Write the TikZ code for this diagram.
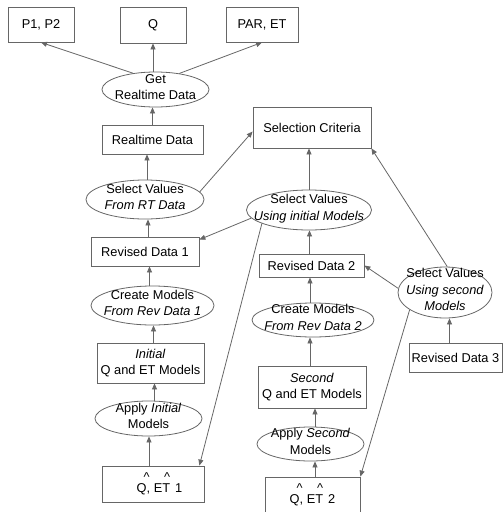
\documentclass[tikz,border=0pt]{standalone}
\usepackage{fontspec}
\setmainfont{Liberation Sans}
\usetikzlibrary{shapes.geometric,arrows.meta}
\definecolor{linegray}{HTML}{666666}

% text of an oval: centred lines that do not widen the oval
\newcommand\ovaltext[1]{\smash{\makebox[0pt]{\raisebox{-1.5pt}{\begin{tabular}{@{}c@{}}#1\end{tabular}}}}}
% a caret set above the preceding letter
\newcommand\caretat[1]{\rlap{\kern#1\raisebox{11pt}{\textasciicircum}}}

\begin{document}
\begin{tikzpicture}[x=1pt,y=-1pt,
  every node/.style={font=\fontsize{12.8}{16.5}\selectfont, text=black},
  box/.style={draw=linegray, line width=0.8pt, rectangle, inner sep=0pt, align=center},
  oval/.style={draw=linegray, line width=0.8pt, ellipse, inner sep=0pt},
  arr/.style={draw=linegray, line width=0.8pt, -{Triangle[length=6pt,width=5pt]}},
]
\path[use as bounding box] (0,0) rectangle (503,512);
\clip (0,0) rectangle (503,512);

% outputs
\node[box, minimum width=66pt, minimum height=35pt] (p12) at (41,24.5) {P1, P2};
\node[box, minimum width=66pt, minimum height=36pt] (q)   at (153,25) {Q};
\node[box, minimum width=72pt, minimum height=35pt] (par) at (262,24.5) {PAR, ET};

% left column
\node[oval, minimum width=107pt, minimum height=35pt] (get) at (155.5,89.5) {\ovaltext{Get\\Realtime Data}};
\node[box, minimum width=101pt, minimum height=29pt] (rt) at (152.5,139.5) {Realtime Data};
\node[oval, minimum width=118pt, minimum height=39pt] (selRT) at (145,199.5) {\ovaltext{Select Values\\\textit{From RT Data}}};
\node[box, minimum width=108pt, minimum height=29pt] (rd1) at (145,251.5) {Revised Data 1};
\node[oval, minimum width=123pt, minimum height=39pt] (cm1) at (152.5,305.5) {\ovaltext{Create Models\\\textit{From Rev Data 1}}};
\node[box, minimum width=107pt, minimum height=40pt] (ini) at (150.5,363) {\textit{Initial}\\Q and ET Models};
\node[oval, minimum width=107pt, minimum height=35pt] (apI) at (148.5,418.5) {\ovaltext{Apply \textit{Initial}\\Models}};
\node[box, minimum width=102pt, minimum height=36pt] (q1) at (153,484) {\hspace*{13pt}Q\caretat{-3pt}, ET\caretat{-6pt}\hspace{5pt}1};

% right column
\node[box, minimum width=118pt, minimum height=41pt] (sc) at (312,127.5) {Selection Criteria};
\node[oval, minimum width=125pt, minimum height=40pt] (selI) at (309,210) {\ovaltext{Select Values\\\textit{Using initial Models}}};
\node[box, minimum width=105pt, minimum height=23pt] (rd2) at (311.5,265.5) {Revised Data 2};
\node[oval, minimum width=122pt, minimum height=34pt] (cm2) at (313,320) {\ovaltext{Create Models\\\textit{From Rev Data 2}}};
\node[box, minimum width=108pt, minimum height=42pt] (sec) at (312,387) {\textit{Second}\\Q and ET Models};
\node[oval, minimum width=107pt, minimum height=34pt] (apS) at (310.5,444) {\ovaltext{Apply \textit{Second}\\Models}};
\node[box, minimum width=95pt, minimum height=36pt] (q2) at (312.5,495) {Q\caretat{-3pt}, ET\caretat{-6pt}\hspace{5pt}2};
\node[oval, minimum width=94pt, minimum height=51pt] (selS) at (445,292.5) {\ovaltext{Select Values\\\textit{Using second}\\\textit{Models}}};
\node[box, minimum width=93pt, minimum height=29pt] (rd3) at (455.5,357.5) {Revised Data 3};

% connectors
\draw[arr] (get.144) -- (p12.south);
\draw[arr] (get.north -| q.south) -- (q.south);
\draw[arr] (get.34) -- (par.south);
\draw[arr] (rt.north) -- (rt.north |- get.south);
\draw[arr] ([xshift=2pt]selRT.north) -- ([xshift=2pt]selRT.north |- rt.south);
\draw[arr] (selRT.8) -- ([yshift=-4pt]sc.west);
\draw[arr] ([xshift=3pt]rd1.north) -- ([xshift=3pt]rd1.north |- selRT.south);
\draw[arr] (selI.188) -- ([yshift=-3pt]rd1.north east);
\draw[arr] (selI.north) -- (selI.north |- sc.south);
\draw[arr] (selI.196) -- ([xshift=-5pt]q1.north east);
\draw[arr] ([xshift=-3pt]cm1.north) -- ([xshift=-3pt]cm1.north |- rd1.south);
\draw[arr] ([xshift=3pt]ini.north) -- ([xshift=3pt]ini.north |- cm1.south);
\draw[arr] ([xshift=6pt]apI.north) -- ([xshift=6pt]apI.north |- ini.south);
\draw[arr] ([xshift=-4pt]q1.north) -- ([xshift=-4pt]q1.north |- apI.south);
\draw[arr] ([xshift=-2pt]rd2.north) -- ([xshift=-2pt]rd2.north |- selI.south);
\draw[arr] ([xshift=-3pt]cm2.north) -- ([xshift=-3pt]cm2.north |- rd2.south);
\draw[arr] ([xshift=-2pt]sec.north) -- ([xshift=-2pt]sec.north |- cm2.south);
\draw[arr] ([xshift=4.5pt]apS.north) -- ([xshift=4.5pt]apS.north |- sec.south);
\draw[arr] ([xshift=2.5pt]q2.north) -- ([xshift=2.5pt]q2.north |- apS.south);
\draw[arr] (selS.175) -- (rd2.east);
\draw[arr] (selS.85) -- (sc.south east);
\draw[arr] (selS.206) -- (q2.north east);
\draw[arr] ([xshift=-6pt]rd3.north) -- ([xshift=-6pt]rd3.north |- selS.south);
\end{tikzpicture}
\end{document}
